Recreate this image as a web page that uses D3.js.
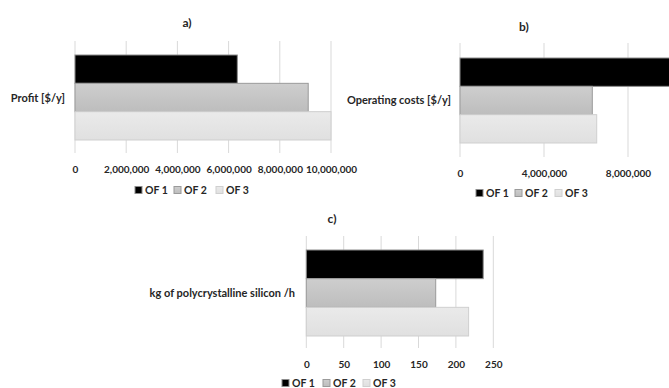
<!DOCTYPE html>
<html lang="en">
  <head>
    <meta charset="utf-8">
    <title>OF comparison</title>
    <script src="https://d3js.org/d3.v7.js"></script>
    <style>
      body { margin: 0; background: #fff; }
      text { font-family: Lato, "Open Sans", sans-serif; font-weight: bold; fill: #262626; }
    </style>
  </head>

  <body>
    <svg></svg>

  <script>

// data

  const series = ["OF 1", "OF 2", "OF 3"];

  const profit = [6340000, 9110000, 10000000];
  const profitTicks = [0, 2000000, 4000000, 6000000, 8000000, 10000000];

  const opCosts = [10600000, 6300000, 6510000];
  const opTicks = [0, 4000000, 8000000];

  const silicon = [236.5, 173, 217];
  const siliconTicks = [0, 50, 100, 150, 200, 250];

  const w = 669;
  const h = 388;

  const svg = d3.select("svg")
      .attr("width", w)
      .attr("height", h);

  const defs = svg.append("defs");
  const fills = [["#000000", "#000000"], ["#cecece", "#bdbdbd"], ["#eaeaea", "#e0e0e0"]];
  const strokes = ["#8c8c8c", "#9a9a9a", "#cfcfcf"];
  fills.forEach((f, i) => {
    const g = defs.append("linearGradient")
        .attr("id", "grad" + i)
        .attr("x1", 0).attr("y1", 0).attr("x2", 0).attr("y2", 1);
    g.append("stop").attr("offset", "0%").attr("stop-color", f[0]);
    g.append("stop").attr("offset", "100%").attr("stop-color", f[1]);
  });

// one panel = one category, three bars

  function panel(p) {
    const g = svg.append("g");

    const x = d3.scaleLinear()
        .domain([0, d3.max(p.ticks)])
        .range([p.x0, p.x0 + p.tickStep * (p.ticks.length - 1)]);

    const y = d3.scaleBand()
        .domain(series)
        .range([p.barTop, p.barBottom]);

    g.append("g")
      .selectAll("line")
      .data(p.ticks)
      .join("line")
        .attr("x1", d => x(d))
        .attr("x2", d => x(d))
        .attr("y1", p.gridTop)
        .attr("y2", p.gridBottom)
        .attr("stroke", "#d9d9d9")
        .attr("stroke-width", 1);

    g.append("g")
      .selectAll("rect")
      .data(p.values)
      .join("rect")
        .attr("x", x(0))
        .attr("y", (d, i) => y(series[i]))
        .attr("width", d => x(d) - x(0))
        .attr("height", y.bandwidth())
        .attr("fill", (d, i) => `url(#grad${i})`)
        .attr("stroke", (d, i) => strokes[i])
        .attr("stroke-width", 1);

    const axis = d3.axisBottom(x)
        .tickValues(p.ticks)
        .tickFormat(d3.format(","))
        .tickSize(0)
        .tickPadding(0);

    const ax = g.append("g")
        .attr("transform", `translate(0, ${p.tickY})`)
        .call(axis);
    ax.select(".domain").remove();
    ax.selectAll("text")
        .attr("dy", "0.35em")
        .style("font-family", "Lato, 'Open Sans', sans-serif")
        .style("font-weight", "bold")
        .style("font-size", "10px")
        .attr("fill", "#262626");

    g.append("text")
        .attr("x", p.labelX)
        .attr("y", p.labelY)
        .attr("text-anchor", "end")
        .attr("dy", "0.35em")
        .style("font-size", "11px")
        .text(p.label);

    g.append("text")
        .attr("x", p.titleX)
        .attr("y", p.titleY)
        .attr("text-anchor", "middle")
        .attr("dy", "0.35em")
        .style("font-size", "12px")
        .text(p.title);

    const leg = g.append("g")
      .selectAll("g")
      .data(series)
      .join("g")
        .attr("transform", (d, i) => `translate(${p.legendX[i]}, ${p.legendY})`);
    leg.append("rect")
        .attr("x", 0)
        .attr("y", -3.5)
        .attr("width", 7)
        .attr("height", 7)
        .attr("fill", (d, i) => `url(#grad${i})`)
        .attr("stroke", (d, i) => strokes[i]);
    leg.append("text")
        .attr("x", 10)
        .attr("y", 0)
        .attr("dy", "0.35em")
        .style("font-size", "10.5px")
        .text(d => d);
  }

  panel({
    values: profit, ticks: profitTicks, x0: 75, tickStep: 51.2,
    barTop: 55, barBottom: 140, gridTop: 41, gridBottom: 153, tickY: 169,
    label: "Profit [$/y]", labelX: 65, labelY: 98,
    title: "a)", titleX: 187, titleY: 23,
    legendX: [135, 174, 216], legendY: 190
  });

  panel({
    values: opCosts, ticks: opTicks, x0: 460, tickStep: 84,
    barTop: 58, barBottom: 143, gridTop: 43, gridBottom: 157, tickY: 173,
    label: "Operating costs [$/y]", labelX: 451, labelY: 100,
    title: "b)", titleX: 524, titleY: 27,
    legendX: [476, 515, 555], legendY: 193
  });

  panel({
    values: silicon, ticks: siliconTicks, x0: 306.3, tickStep: 37.4,
    barTop: 250, barBottom: 336, gridTop: 236, gridBottom: 348, tickY: 364,
    label: "kg of polycrystalline silicon /h", labelX: 295, labelY: 293,
    title: "c)", titleX: 332, titleY: 219,
    legendX: [282, 323, 363], legendY: 383
  });

    </script>

  </body>

</html>
